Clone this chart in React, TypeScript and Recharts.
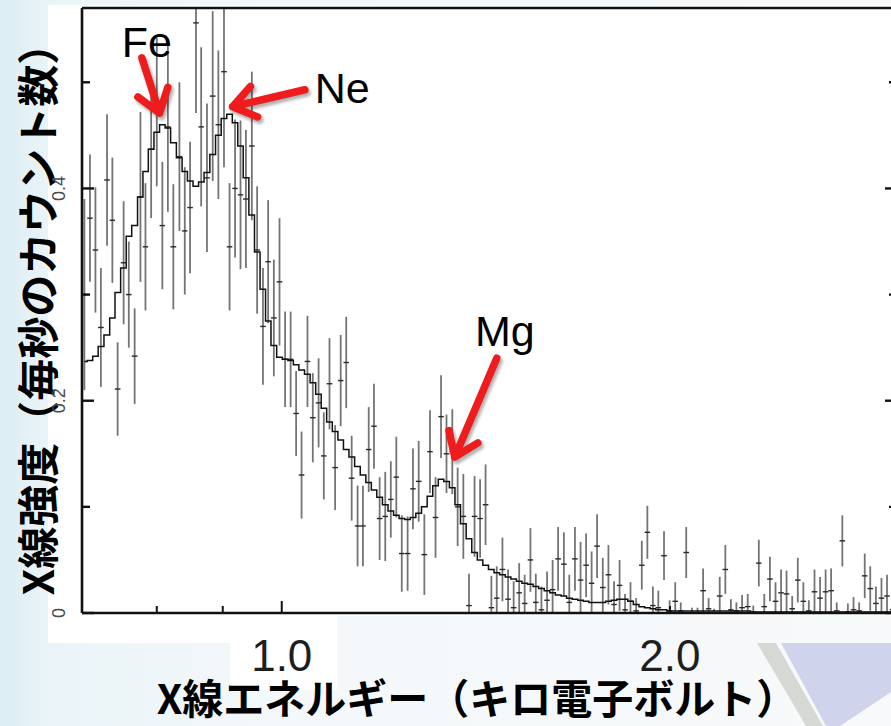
import React from 'react';
import { ComposedChart, XAxis, YAxis, Scatter, ErrorBar, Line, ReferenceLine } from 'recharts';

// bin centres (keV)
const ENERGY = [
  0.703, 0.710, 0.717, 0.724, 0.732, 0.739, 0.746, 0.754, 0.761, 0.769,
  0.777, 0.784, 0.792, 0.800, 0.808, 0.816, 0.824, 0.833, 0.841, 0.849,
  0.858, 0.866, 0.875, 0.884, 0.893, 0.902, 0.911, 0.920, 0.929, 0.938,
  0.948, 0.957, 0.967, 0.976, 0.986, 0.996, 1.006, 1.016, 1.026, 1.036,
  1.047, 1.057, 1.068, 1.078, 1.089, 1.100, 1.111, 1.122, 1.133, 1.145,
  1.156, 1.168, 1.179, 1.191, 1.203, 1.215, 1.227, 1.239, 1.252, 1.264,
  1.277, 1.290, 1.303, 1.316, 1.329, 1.342, 1.356, 1.369, 1.383, 1.397,
  1.411, 1.425, 1.439, 1.454, 1.468, 1.483, 1.498, 1.513, 1.528, 1.543,
  1.559, 1.574, 1.590, 1.606, 1.622, 1.638, 1.655, 1.671, 1.688, 1.705,
  1.722, 1.739, 1.756, 1.774, 1.792, 1.810, 1.828, 1.846, 1.864, 1.883,
  1.902, 1.921, 1.940, 1.959, 1.979, 1.999, 2.019, 2.039, 2.059, 2.080,
  2.101, 2.122, 2.143, 2.164, 2.186, 2.208, 2.230, 2.252, 2.275, 2.298,
  2.321, 2.344, 2.367, 2.391, 2.415, 2.439, 2.463, 2.488, 2.513, 2.538,
  2.563, 2.589, 2.615, 2.641, 2.667, 2.694, 2.721, 2.748, 2.776, 2.804,
  2.832, 2.860, 2.889, 2.918, 2.947, 2.976,
];

// best-fit model (counts/s), step histogram
const MODEL = [
  0.237, 0.238, 0.242, 0.251, 0.262, 0.278, 0.302, 0.325, 0.355, 0.365,
  0.392, 0.416, 0.437, 0.453, 0.460, 0.457, 0.443, 0.429, 0.416, 0.407,
  0.402, 0.406, 0.415, 0.432, 0.450, 0.466, 0.470, 0.462, 0.440, 0.410,
  0.375, 0.340, 0.305, 0.275, 0.252, 0.241, 0.239, 0.238, 0.234, 0.229,
  0.225, 0.217, 0.206, 0.193, 0.180, 0.171, 0.163, 0.154, 0.147, 0.138,
  0.130, 0.123, 0.116, 0.109, 0.102, 0.096, 0.092, 0.089, 0.088, 0.090,
  0.094, 0.100, 0.110, 0.120, 0.126, 0.124, 0.118, 0.102, 0.084, 0.070,
  0.057, 0.050, 0.045, 0.041, 0.038, 0.036, 0.034, 0.032, 0.030, 0.028,
  0.027, 0.025, 0.023, 0.021, 0.019, 0.017, 0.016, 0.014, 0.013, 0.012,
  0.011, 0.010, 0.010, 0.010, 0.011, 0.012, 0.013, 0.013, 0.011, 0.008,
  0.006, 0.005, 0.004, 0.003, 0.003, 0.002, 0.002, 0.002, 0.002, 0.002,
  0.002, 0.002, 0.002, 0.002, 0.002, 0.002, 0.002, 0.002, 0.002, 0.002,
  0.001, 0.001, 0.001, 0.001, 0.001, 0.001, 0.001, 0.001, 0.001, 0.001,
  0.001, 0.001, 0.001, 0.001, 0.001, 0.001, 0.001, 0.001, 0.001, 0.001,
  0.001, 0.001, 0.001, 0.001, 0.001, 0.001,
];

// observed rate (counts/s)
const RATE = [
  0.300, 0.372, 0.342, 0.269, 0.408, 0.370, 0.211, 0.330, 0.300, 0.242,
  0.392, 0.345, 0.437, 0.472, 0.365, 0.458, 0.345, 0.430, 0.360, 0.382,
  0.556, 0.458, 0.410, 0.487, 0.460, 0.510, 0.345, 0.400, 0.394, 0.390,
  0.440, 0.342, 0.270, 0.331, 0.278, 0.312, 0.239, 0.239, 0.188, 0.130,
  0.237, 0.184, 0.198, 0.148, 0.216, 0.137, 0.219, 0.236, 0.127, 0.082,
  0.082, 0.154, 0.176, 0.089, 0.091, 0.107, 0.128, 0.056, 0.056, 0.117,
  0.124, 0.055, 0.152, 0.090, 0.185, 0.150, 0.152, 0.100, 0.091, 0.007,
  0.091, 0.089, 0.102, 0.005, 0.014, 0.041, 0.013, 0.005, 0.019, 0.009,
  0.050, 0.010, 0.003, 0.012, 0.022, 0.051, 0.046, 0.010, 0.051, 0.031,
  0.045, 0.028, 0.063, 0.024, 0.036, 0.008, 0.026, 0.003, 0.011, 0.002,
  0.045, 0.076, 0.007, 0.005, 0.054, 0.002, 0.011, 0.002, 0.057, 0.000,
  0.000, 0.021, 0.004, 0.000, 0.016, 0.041, 0.003, 0.002, 0.005, 0.006,
  0.001, 0.047, 0.006, 0.032, 0.011, 0.019, 0.018, 0.004, 0.031, 0.011,
  0.002, 0.020, 0.014, 0.020, 0.021, 0.002, 0.068, 0.001, 0.003, 0.002,
  0.035, 0.023, 0.009, 0.014, 0.016, 0.003,
];

// 1-sigma errors on RATE
const RATE_ERR = [
  0.090, 0.060, 0.059, 0.056, 0.062, 0.059, 0.044, 0.058, 0.050, 0.045,
  0.080, 0.060, 0.065, 0.070, 0.060, 0.080, 0.059, 0.070, 0.060, 0.062,
  0.085, 0.075, 0.070, 0.080, 0.070, 0.090, 0.060, 0.065, 0.070, 0.065,
  0.070, 0.060, 0.055, 0.058, 0.055, 0.060, 0.045, 0.045, 0.040, 0.041,
  0.043, 0.042, 0.042, 0.041, 0.043, 0.040, 0.043, 0.043, 0.040, 0.038,
  0.038, 0.040, 0.040, 0.039, 0.042, 0.036, 0.038, 0.036, 0.035, 0.038,
  0.038, 0.038, 0.039, 0.038, 0.039, 0.037, 0.040, 0.037, 0.040, 0.030,
  0.038, 0.037, 0.038, 0.030, 0.030, 0.030, 0.028, 0.025, 0.028, 0.027,
  0.030, 0.027, 0.022, 0.027, 0.028, 0.030, 0.030, 0.026, 0.030, 0.036,
  0.030, 0.030, 0.030, 0.028, 0.028, 0.022, 0.024, 0.015, 0.018, 0.012,
  0.023, 0.025, 0.018, 0.016, 0.023, 0.010, 0.018, 0.008, 0.024, 0.005,
  0.005, 0.021, 0.010, 0.004, 0.018, 0.023, 0.010, 0.008, 0.012, 0.012,
  0.006, 0.022, 0.012, 0.021, 0.018, 0.022, 0.022, 0.012, 0.021, 0.018,
  0.010, 0.021, 0.020, 0.021, 0.021, 0.008, 0.024, 0.008, 0.012, 0.008,
  0.021, 0.021, 0.016, 0.019, 0.020, 0.012,
];

const X_DOMAIN = [0.7, 3];
const Y_DOMAIN = [0, 0.57];
const X_TICKS = [0.8, 0.9, 1, 2];
const X_LONG = [1];
const X_LABELED = [1, 2];
const Y_TICKS = [0, 0.1, 0.2, 0.3, 0.4, 0.5];
const Y_LABELED = [0, 0.2, 0.4];

// line annotations: arrow tail -> head, in (keV, counts/s)
const LINE_NAMES = ['Fe', 'Ne', 'Mg'];
const ARROW_FROM = [[0.779, 0.523], [1.042, 0.493], [1.468, 0.24]];
const ARROW_TO = [[0.804, 0.471], [0.916, 0.477], [1.362, 0.147]];

const INK = '#111';
const RED = '#ee1c1c';
const JP = '"Noto Sans CJK JP", "Noto Sans CJK SC", sans-serif';
const SANS = '"Liberation Sans", Arial, sans-serif';

const LABEL_POS: Record<string, { dx: number; dy: number; anchor: 'start' | 'middle' }> = {
  Fe: { dx: 5, dy: -1, anchor: 'middle' },
  Ne: { dx: 10, dy: 13, anchor: 'start' },
  Mg: { dx: 8, dy: -12, anchor: 'middle' },
};

const halfBin = (i: number) => {
  const last = ENERGY.length - 1;
  const lo = ENERGY[Math.max(i - 1, 0)];
  const hi = ENERGY[Math.min(i + 1, last)];
  return (hi - lo) / (i === 0 || i === last ? 2 : 4);
};

// error bars are cut at the frame, like the plot they come from
const points = ENERGY.map((x, i) => {
  const y = RATE[i];
  const e = RATE_ERR[i];
  return {
    x,
    y,
    err: [Math.min(e, y - Y_DOMAIN[0]), Math.min(e, Y_DOMAIN[1] - y)],
    xErr: halfBin(i),
  };
});
const model = ENERGY.map((x, i) => ({ x, m: MODEL[i] }));

const Blank = () => <g />;

const BottomTick = ({ x, y, payload }: any) => {
  const v = payload.value;
  return (
    <g>
      <line x1={x} x2={x} y1={y} y2={y - (X_LONG.includes(v) ? 12 : 7)} stroke={INK} strokeWidth={2} />
      {X_LABELED.includes(v) && (
        <text x={x} y={y + 58} textAnchor="middle" fontFamily={SANS} fontSize={44} fill="#1e1e1e">
          {v.toFixed(1)}
        </text>
      )}
    </g>
  );
};

const TopTick = ({ x, y, payload }: any) => (
  <line x1={x} x2={x} y1={y} y2={y + (X_LONG.includes(payload.value) ? 12 : 7)} stroke={INK} strokeWidth={2} />
);

const LeftTick = ({ x, y, payload }: any) => {
  const v = payload.value;
  const major = Y_LABELED.includes(v);
  return (
    <g>
      <line x1={x} x2={x + (major ? 12 : 8)} y1={y} y2={y} stroke={INK} strokeWidth={2.4} />
      {major && (
        <text
          x={x - 17}
          y={y}
          transform={`rotate(-90 ${x - 17} ${y})`}
          textAnchor="middle"
          fontFamily={SANS}
          fontSize={18}
          fill="#4a4a4a"
        >
          {v === 0 ? '0' : v.toFixed(1)}
        </text>
      )}
    </g>
  );
};

const RightTick = ({ x, y, payload }: any) => (
  <line x1={x} x2={x - (Y_LABELED.includes(payload.value) ? 12 : 8)} y1={y} y2={y} stroke={INK} strokeWidth={2.4} />
);

function Arrow({ x1, y1, x2, y2, name }: any) {
  const dx = x2 - x1;
  const dy = y2 - y1;
  const len = Math.hypot(dx, dy) || 1;
  const ux = dx / len;
  const uy = dy / len;
  const wing = 27;
  const a = 0.62;
  const c = Math.cos(a);
  const s = Math.sin(a);
  const w1x = x2 - wing * (ux * c - uy * s);
  const w1y = y2 - wing * (ux * s + uy * c);
  const w2x = x2 - wing * (ux * c + uy * s);
  const w2y = y2 - wing * (uy * c - ux * s);
  const d = `M${x1},${y1} L${x2},${y2} M${w1x},${w1y} L${x2},${y2} L${w2x},${w2y}`;
  const pos = LABEL_POS[name];
  return (
    <g>
      <defs>
        <filter id={`shadow-${name}`} x="-50%" y="-50%" width="200%" height="200%">
          <feGaussianBlur stdDeviation={1.6} />
        </filter>
      </defs>
      <path
        d={d}
        transform="translate(2,3)"
        stroke="rgba(0,0,0,0.3)"
        strokeWidth={8}
        fill="none"
        strokeLinecap="round"
        strokeLinejoin="round"
        filter={`url(#shadow-${name})`}
      />
      <path d={d} stroke={RED} strokeWidth={7.5} fill="none" strokeLinecap="round" strokeLinejoin="round" />
      <text x={x1 + pos.dx} y={y1 + pos.dy} textAnchor={pos.anchor} fontFamily={SANS} fontSize={43} fill="#000">
        {name}
      </text>
    </g>
  );
}

export default function App() {
  return (
    <div
      style={{
        position: 'fixed',
        inset: 0,
        overflow: 'hidden',
        background: 'linear-gradient(90deg, #dcedf4 0px, #eaf4f8 50px, #f4f8fa 300px, #f7f9fa 100%)',
      }}
    >
      <div style={{ position: 'absolute', left: 48, top: 5, width: 843, height: 611, background: '#fff' }} />
      <div style={{ position: 'absolute', left: 48, top: 616, width: 182, height: 27, background: '#fff' }} />
      <div style={{ position: 'absolute', left: 230, top: 616, width: 107, height: 74, background: '#fff' }} />
      <svg width={891} height={726} style={{ position: 'absolute', left: 0, top: 0 }}>
        <polygon points="757,643 776,643 823,726 806,726" fill="#d6d8d3" />
        <polygon points="781,643 891,643 891,692 840,726 826,726" fill="#cfd3ec" />
      </svg>
      <div style={{ position: 'absolute', left: 0, top: 0 }}>
        <ComposedChart width={905} height={726} margin={{ top: 0, right: 0, bottom: 0, left: 0 }}>
          <XAxis
            xAxisId="b"
            dataKey="x"
            type="number"
            scale="log"
            domain={X_DOMAIN}
            allowDataOverflow
            ticks={X_TICKS}
            interval={0}
            height={113}
            tickSize={0}
            tickMargin={0}
            tickLine={false}
            axisLine={{ stroke: INK, strokeWidth: 2.6 }}
            tick={BottomTick}
            label={{
              content: () => (
                <text x={477} y={714} textAnchor="middle" fontFamily={JP} fontWeight={700} fontSize={41} fill="#000">
                  X線エネルギー（キロ電子ボルト）
                </text>
              ),
            }}
          />
          <XAxis
            xAxisId="t"
            orientation="top"
            type="number"
            scale="log"
            domain={X_DOMAIN}
            allowDataOverflow
            ticks={X_TICKS}
            interval={0}
            height={8}
            tickSize={0}
            tickMargin={0}
            tickLine={false}
            axisLine={{ stroke: INK, strokeWidth: 2.4 }}
            tick={TopTick}
          />
          <YAxis
            yAxisId="l"
            type="number"
            domain={Y_DOMAIN}
            allowDataOverflow
            ticks={Y_TICKS}
            interval={0}
            width={82}
            tickSize={0}
            tickMargin={0}
            tickLine={false}
            axisLine={{ stroke: INK, strokeWidth: 2.6 }}
            tick={LeftTick}
            label={{
              content: () => (
                <text
                  x={54}
                  y={309}
                  transform="rotate(-90 54 309)"
                  textAnchor="middle"
                  fontFamily={JP}
                  fontWeight={700}
                  fontSize={42}
                  fill="#000"
                >
                  X線強度（毎秒のカウント数）
                </text>
              ),
            }}
          />
          <YAxis
            yAxisId="r"
            orientation="right"
            type="number"
            domain={Y_DOMAIN}
            allowDataOverflow
            ticks={Y_TICKS}
            interval={0}
            width={8}
            tickSize={0}
            tickMargin={0}
            tickLine={false}
            axisLine={{ stroke: INK, strokeWidth: 2.4 }}
            tick={RightTick}
          />
          <Scatter xAxisId="b" yAxisId="l" data={points} dataKey="y" shape={Blank} isAnimationActive={false}>
            <ErrorBar dataKey="err" direction="y" width={0} stroke="#747474" strokeWidth={1.8} isAnimationActive={false} />
            <ErrorBar dataKey="xErr" direction="x" width={0} stroke="#2a2a2a" strokeWidth={1.4} isAnimationActive={false} />
          </Scatter>
          <Line
            xAxisId="b"
            yAxisId="l"
            data={model}
            dataKey="m"
            type="step"
            stroke={INK}
            strokeWidth={1.5}
            dot={false}
            activeDot={false}
            isAnimationActive={false}
          />
          {LINE_NAMES.map((name, i) => (
            <ReferenceLine
              key={name}
              xAxisId="b"
              yAxisId="l"
              ifOverflow="visible"
              segment={[
                { x: ARROW_FROM[i][0], y: ARROW_FROM[i][1] },
                { x: ARROW_TO[i][0], y: ARROW_TO[i][1] },
              ]}
              shape={(p: any) => <Arrow {...p} name={name} />}
            />
          ))}
        </ComposedChart>
      </div>
    </div>
  );
}
